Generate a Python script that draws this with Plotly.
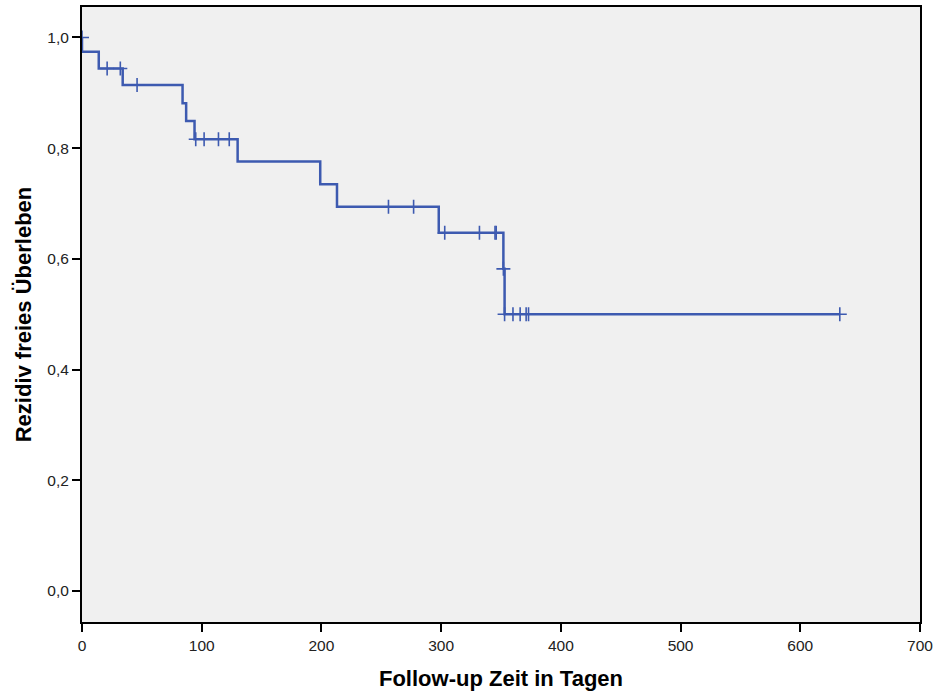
import plotly.graph_objects as go

# Kaplan-Meier step curve (time in days, survival proportion)
step_times = [0, 0, 14, 34, 84, 87, 94, 130, 199, 213, 298, 352, 353, 633]
step_surv = [1.0, 0.974, 0.944, 0.914, 0.881, 0.849, 0.816, 0.776, 0.735, 0.694, 0.647, 0.582, 0.500, 0.500]

# Censored observations
cens_times = [0, 21, 32, 46, 95, 102, 114, 123, 256, 277, 303, 332, 345, 346,
              352, 353, 360, 366, 371, 373, 633]
cens_surv = [1.0, 0.944, 0.944, 0.914, 0.816, 0.816, 0.816, 0.816, 0.694, 0.694,
             0.647, 0.647, 0.647, 0.647, 0.582, 0.500, 0.500, 0.500, 0.500, 0.500, 0.500]

x_ticks = [0, 100, 200, 300, 400, 500, 600, 700]
y_ticks = [0.0, 0.2, 0.4, 0.6, 0.8, 1.0]

blue = "#3D5AB0"

fig = go.Figure()
fig.add_trace(go.Scatter(
    x=step_times, y=step_surv, mode="lines",
    line=dict(color=blue, width=2.5, shape="hv"),
    showlegend=False, hoverinfo="skip",
))
fig.add_trace(go.Scatter(
    x=cens_times, y=cens_surv, mode="markers",
    marker=dict(symbol="cross-thin", size=10, color=blue,
                line=dict(color=blue, width=1.6)),
    showlegend=False, hoverinfo="skip",
))

axis_common = dict(
    showline=True, linecolor="black", linewidth=2, mirror=True,
    ticks="outside", tickcolor="black", tickwidth=1.5, ticklen=8,
    showgrid=False, zeroline=False, automargin=False,
    tickfont=dict(family="Liberation Sans, Arial", size=15.5, color="#222222"),
)

fig.update_layout(
    width=936, height=695,
    margin=dict(l=82, r=16, t=7, b=73),
    paper_bgcolor="white", plot_bgcolor="#F0F0F0",
    separators=",.",
    xaxis=dict(
        range=[0, 700], tickvals=x_ticks, ticktext=[str(v) for v in x_ticks],
        title=dict(text="<b>Follow-up Zeit in Tagen</b>", standoff=18,
                   font=dict(family="Liberation Sans, Arial", size=22, color="black")),
        **axis_common,
    ),
    yaxis=dict(
        range=[-0.056, 1.055], tickvals=y_ticks, tickformat=".1f",
        title=dict(text="<b>Rezidiv freies Überleben</b>", standoff=10,
                   font=dict(family="Liberation Sans, Arial", size=22, color="black")),
        **axis_common,
    ),
)

fig.write_html(
    "out.html",
    config={"displayModeBar": False},
    post_script="document.body.style.margin='0px';document.body.style.overflow='hidden';",
)
